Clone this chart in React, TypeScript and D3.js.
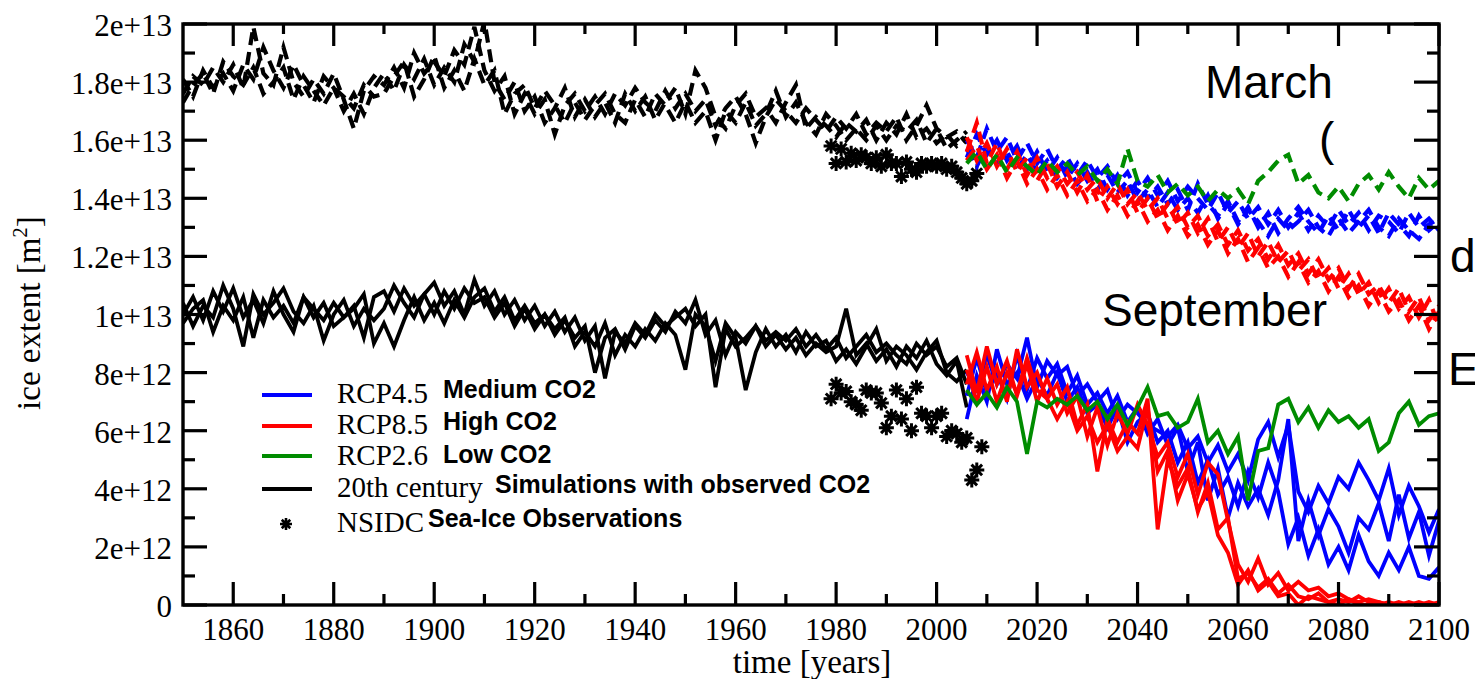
import React from "react";
import * as d3 from "d3";

// ---------- categories ----------
const histYears = d3.range(1850, 2007, 2); // 1850..2006
const rcpYears = d3.range(2006, 2101, 2); // 2006..2100
const obsYearsSep = d3.range(1979, 2010);
const obsYearsMar = d3.range(1979, 2009);

// ---------- values (units of 1e12 m^2) ----------
// 20th century, September (solid black)
const sepHist1 = [
  10.0, 10.6, 9.8, 10.8, 10.1, 10.9, 9.9, 10.5, 9.7, 10.8,
  10.0, 9.4, 10.6, 10.2, 9.8, 10.4, 9.9, 10.3, 9.2, 10.6,
  10.8, 10.1, 10.9, 10.3, 10.7, 10.0, 10.8, 10.2, 10.9, 10.4,
  10.6, 9.9, 10.4, 9.6, 10.2, 9.5, 10.0, 9.3, 9.8, 9.2,
  9.6, 8.0, 9.2, 9.5, 8.8, 9.6, 9.2, 9.8, 9.4, 10.1,
  9.7, 10.5, 9.3, 9.8, 8.6, 9.4, 9.0, 9.6, 8.9, 9.3,
  8.8, 9.2, 8.6, 9.0, 8.7, 8.9, 10.2, 8.6, 9.0, 8.4,
  8.8, 8.2, 8.9, 8.5, 9.1, 8.3, 7.9, 8.4, 6.8,
];
const sepHist2 = [
  10.4, 9.6, 10.3, 9.9, 11.0, 10.2, 8.9, 10.7, 10.0, 10.4,
  10.9, 10.1, 9.7, 10.3, 9.1, 10.0, 10.5, 9.6, 10.2, 9.8,
  10.2, 11.0, 10.4, 9.9, 10.7, 11.1, 10.3, 10.8, 10.0, 11.2,
  10.3, 10.8, 10.0, 10.5, 9.8, 10.3, 9.6, 10.1, 9.4, 9.9,
  9.1, 9.6, 7.8, 9.4, 9.0, 9.7, 9.3, 10.0, 9.6, 9.9,
  10.2, 9.6, 10.0, 7.5, 9.5, 8.9, 9.2, 9.6, 9.1, 9.4,
  9.1, 9.5, 8.9, 9.3, 8.8, 9.2, 8.5, 8.9, 9.3, 8.7,
  9.0, 8.6, 8.3, 9.0, 8.6, 8.9, 8.2, 8.5, 7.6,
];
const sepHist3 = [
  9.7, 10.2, 10.5, 9.4, 10.3, 9.8, 10.6, 9.2, 10.5, 9.9,
  10.3, 9.7, 10.6, 9.9, 10.4, 9.6, 9.9, 10.2, 10.7, 9.0,
  9.7, 8.9, 9.8, 10.6, 9.8, 10.4, 9.7, 10.5, 9.9, 10.6,
  10.9, 10.1, 10.6, 9.8, 10.3, 9.7, 10.0, 9.5, 9.9, 8.9,
  9.4, 8.9, 9.7, 8.6, 9.3, 8.9, 9.5, 9.1, 9.7, 9.3,
  8.1, 10.0, 9.6, 8.4, 9.7, 9.2, 7.4, 8.7, 9.5, 8.9,
  9.3, 8.7, 9.4, 8.9, 9.1, 8.4, 8.8, 8.3, 8.9, 9.5,
  8.4, 8.9, 8.6, 8.1, 8.7, 9.1, 8.0, 7.7, 8.1,
];
// 20th century, March (dashed black)
const marHist1 = [
  17.6, 18.2, 17.9, 18.5, 18.0, 18.6, 17.8, 19.9, 18.3, 17.9,
  19.2, 18.0, 17.5, 18.1, 17.6, 18.3, 17.4, 16.4, 17.7, 18.2,
  17.9, 18.5, 17.8, 19.0, 18.3, 18.7, 18.2, 19.1, 18.6, 19.9,
  18.4, 17.7, 18.2, 16.9, 17.6, 16.9, 17.4, 16.2, 17.2, 17.6,
  17.0, 17.5, 16.9, 17.6, 17.2, 17.8, 17.3, 17.0, 17.7, 17.1,
  17.6, 17.0, 17.4, 16.5, 17.1, 17.5, 16.9, 15.9, 16.8, 17.4,
  17.0, 16.6, 17.1, 16.7, 16.3, 16.8, 16.4, 16.9, 16.2, 16.6,
  16.3, 16.8, 16.0, 16.5, 17.2, 16.4, 16.1, 16.3, 15.9,
];
const marHist2 = [
  18.1, 17.5, 18.4, 17.8, 18.3, 17.7, 18.6, 18.1, 19.2, 18.4,
  17.8, 18.6, 17.9, 17.3, 18.2, 17.8, 17.0, 17.6, 16.9, 17.8,
  18.3, 17.7, 18.6, 18.1, 18.8, 17.9, 18.5, 18.0, 19.3, 18.7,
  20.1, 18.0, 17.4, 18.0, 17.0, 17.5, 16.6, 17.1, 17.8, 16.8,
  17.4, 16.8, 17.3, 16.6, 17.6, 17.0, 17.5, 16.7, 17.3, 17.8,
  16.9, 18.4, 17.8, 16.8, 16.4, 17.2, 17.6, 16.8, 17.1, 16.6,
  17.3, 17.9, 16.4, 16.8, 16.5, 16.1, 16.6, 16.3, 16.7, 16.0,
  16.6, 16.2, 16.9, 16.1, 16.4, 15.9, 16.2, 15.8, 16.1,
];
const marHist3 = [
  17.3, 17.9, 18.3, 17.6, 18.7, 18.2, 17.9, 18.5, 17.6, 18.0,
  18.5, 17.4, 18.2, 17.7, 17.2, 17.8, 17.5, 17.1, 17.9, 17.5,
  17.6, 18.2, 18.7, 17.5, 18.1, 18.9, 17.8, 18.4, 17.7, 18.8,
  17.9, 18.4, 16.9, 17.6, 17.9, 17.1, 17.7, 17.2, 16.6, 17.3,
  16.7, 17.2, 17.6, 16.9, 16.6, 17.4, 16.8, 17.6, 17.2, 16.6,
  17.3, 16.6, 17.0, 16.0, 17.0, 16.6, 17.3, 16.5, 16.9, 17.7,
  16.8, 17.3, 16.6, 16.2, 16.9, 16.5, 16.0, 16.4, 16.0, 16.5,
  16.0, 16.5, 16.3, 16.7, 15.9, 16.4, 15.7, 16.0, 16.3,
];
// NSIDC observations
const sepObs = [
  7.1, 7.6, 7.3, 7.35, 7.0, 6.9, 6.7, 7.4, 7.3, 7.3,
  6.95, 6.1, 6.5, 7.4, 6.4, 7.1, 6.0, 7.5, 6.6, 6.5,
  6.1, 6.5, 6.6, 5.8, 6.0, 5.9, 5.6, 5.75, 4.3, 4.65, 5.45,
];
const marObs = [
  15.8, 15.2, 15.7, 15.25, 15.55, 15.3, 15.5, 15.4, 15.2, 15.4,
  15.1, 15.5, 15.2, 15.2, 14.75, 15.25, 15.0, 14.9, 15.2, 15.1,
  15.2, 15.1, 15.2, 15.0, 15.1, 14.9, 14.7, 14.5, 14.6, 14.85,
];
// RCP4.5 September (blue, solid)
const sepRcp45a = [
  8.0, 7.4, 8.6, 7.6, 8.3, 7.8, 9.2, 7.5, 8.4, 7.9,
  8.2, 7.2, 7.6, 7.0, 7.4, 6.4, 6.9, 6.6, 6.2, 6.0,
  5.8, 6.2, 5.4, 5.8, 4.9, 5.5, 4.6, 5.2, 4.3, 5.7,
  6.3, 5.1, 6.2, 3.9, 3.2, 4.1, 3.5, 4.4, 4.0, 4.9,
  4.3, 3.6, 4.7, 3.1, 4.1, 3.4, 2.5, 3.3,
];
const sepRcp45b = [
  7.2, 8.5, 7.3, 8.0, 7.1, 8.6, 7.4, 8.5, 7.8, 8.3,
  7.3, 7.9, 6.9, 7.3, 6.6, 7.2, 6.3, 6.8, 5.9, 6.4,
  5.5, 6.1, 4.6, 5.6, 3.6, 4.7, 3.0, 4.2, 3.4, 4.0,
  3.1, 4.3, 6.4, 2.2, 3.6, 2.4, 3.3, 2.7, 1.8, 3.0,
  2.6, 3.5, 2.2, 3.8, 2.3, 3.2, 1.7, 2.9,
];
const sepRcp45c = [
  6.4, 7.9, 7.0, 8.8, 7.6, 8.0, 7.1, 7.8, 7.2, 8.0,
  7.0, 7.5, 6.6, 6.9, 6.1, 6.8, 5.6, 6.3, 6.6, 5.6,
  6.0, 4.9, 5.6, 4.2, 5.0, 3.8, 4.4, 3.4, 4.6, 3.7,
  4.9, 3.9, 2.1, 3.0, 1.7, 2.6, 1.4, 2.0, 1.2, 2.4,
  1.5, 1.0, 1.8, 1.2, 2.0, 1.0, 0.9, 1.3,
];
// RCP8.5 September (red, solid)
const sepRcp85a = [
  8.6, 7.3, 8.9, 7.6, 8.4, 7.2, 8.3, 7.0, 7.8, 6.9,
  7.5, 6.2, 6.9, 4.6, 6.4, 5.6, 6.3, 5.9, 7.1, 2.6,
  5.0, 4.1, 4.7, 3.2, 4.2, 2.6, 3.0, 0.9, 1.1, 0.6,
  0.9, 0.4, 0.7, 0.3, 0.2, 0.4, 0.1, 0.2, 0.1, 0.3,
  0.1, 0.0, 0.1, 0.0, 0.1, 0.0, 0.1, 0.0,
];
const sepRcp85b = [
  7.6, 8.7, 7.4, 8.2, 7.0, 8.8, 7.5, 8.0, 7.1, 7.6,
  6.6, 7.2, 5.8, 6.8, 5.5, 6.6, 5.9, 6.9, 6.2, 5.1,
  5.6, 4.4, 5.2, 3.8, 4.9, 4.5, 2.9, 1.4, 0.8, 1.6,
  0.7, 1.1, 0.5, 0.8, 0.5, 0.6, 0.3, 0.4, 0.2, 0.1,
  0.2, 0.1, 0.0, 0.1, 0.0, 0.0, 0.0, 0.1,
];
const sepRcp85c = [
  8.1, 7.0, 8.2, 7.0, 8.0, 7.3, 8.5, 7.4, 7.1, 6.4,
  7.0, 6.0, 6.5, 5.6, 6.2, 5.3, 5.8, 5.4, 6.8, 4.6,
  5.3, 3.6, 4.5, 3.3, 3.9, 2.4, 1.8, 0.7, 1.2, 0.5,
  0.8, 0.3, 0.4, 0.0, 0.3, 0.2, 0.1, 0.0, 0.2, 0.0,
  0.0, 0.1, 0.0, 0.0, 0.0, 0.1, 0.0, 0.0,
];
// RCP2.6 September (green, solid)
const sepRcp26 = [
  7.4, 6.9, 7.3, 6.8, 7.5, 7.0, 5.2, 7.0, 6.8, 7.1,
  6.9, 7.2, 6.7, 7.0, 6.4, 6.9, 6.2, 6.8, 7.5, 6.5,
  6.6, 6.1, 6.3, 7.1, 5.6, 6.0, 5.2, 5.8, 3.6, 5.3,
  5.4, 6.9, 7.1, 6.3, 6.8, 6.1, 6.7, 6.3, 6.5, 6.1,
  6.4, 5.3, 5.6, 6.6, 7.0, 6.2, 6.5, 6.6,
];
// RCP4.5 March (blue, dashed)
const marRcp45a = [
  16.0, 15.4, 16.4, 15.6, 16.1, 15.3, 15.9, 15.2, 15.7, 15.0,
  15.4, 14.8, 15.3, 14.7, 15.1, 14.5, 14.9, 14.2, 14.7, 14.1,
  14.6, 13.9, 14.4, 14.0, 13.6, 14.2, 13.5, 13.9, 13.3, 13.7,
  13.1, 13.6, 13.0, 13.5, 12.9, 13.4, 13.0, 13.6, 13.1, 13.5,
  12.9, 13.4, 13.2, 12.8, 13.5, 13.0, 13.3, 12.9,
];
const marRcp45b = [
  15.4, 16.2, 15.5, 16.0, 15.3, 15.8, 15.0, 15.6, 14.9, 15.4,
  14.7, 15.2, 14.6, 15.0, 14.3, 14.8, 14.1, 14.6, 14.0, 14.4,
  13.8, 14.3, 13.6, 14.5, 13.8, 13.4, 13.9, 13.2, 13.7, 13.0,
  13.5, 12.8, 13.3, 13.7, 13.2, 12.8, 13.4, 12.9, 13.6, 13.0,
  13.4, 12.8, 13.5, 13.1, 12.7, 13.4, 12.9, 13.2,
];
const marRcp45c = [
  15.7, 15.1, 15.8, 15.2, 15.6, 15.0, 15.5, 14.9, 15.3, 14.7,
  15.1, 14.5, 14.9, 14.3, 14.8, 14.2, 14.6, 13.9, 14.3, 13.7,
  14.2, 13.6, 14.0, 13.5, 14.1, 13.3, 13.8, 13.1, 13.6, 13.2,
  12.7, 13.3, 12.9, 13.2, 13.6, 13.0, 12.7, 13.3, 12.8, 13.2,
  13.6, 13.0, 12.7, 13.3, 12.9, 12.6, 13.1, 13.3,
];
// RCP8.5 March (red, dashed)
const marRcp85a = [
  15.6, 16.6, 15.2, 15.9, 15.0, 15.6, 14.8, 15.4, 14.7, 15.1,
  14.5, 14.9, 14.3, 14.7, 14.0, 14.5, 13.8, 14.2, 13.6, 14.0,
  13.3, 13.7, 13.0, 13.4, 12.7, 13.1, 12.4, 12.9, 12.2, 12.6,
  11.9, 12.4, 11.7, 12.1, 11.4, 11.9, 11.2, 11.6, 10.9, 11.4,
  10.7, 11.0, 10.4, 10.9, 10.1, 10.6, 9.8, 10.3,
];
const marRcp85b = [
  16.1, 15.3, 15.9, 15.1, 15.7, 14.9, 15.4, 14.6, 15.2, 14.4,
  14.9, 14.2, 14.8, 13.9, 14.4, 13.8, 14.3, 13.5, 14.0, 13.3,
  13.8, 13.1, 13.5, 12.8, 13.3, 12.5, 13.0, 12.3, 12.8, 12.0,
  12.5, 11.8, 12.2, 11.5, 11.9, 11.2, 11.6, 10.9, 11.4, 10.7,
  11.1, 10.4, 10.9, 10.2, 10.6, 9.9, 10.5, 9.6,
];
const marRcp85c = [
  15.3, 15.8, 15.0, 15.5, 14.7, 15.3, 14.5, 15.0, 14.3, 14.8,
  14.1, 14.6, 13.9, 14.3, 13.6, 14.1, 13.4, 13.9, 13.2, 13.6,
  12.9, 13.4, 12.7, 13.1, 12.4, 12.9, 12.1, 12.6, 11.8, 12.3,
  11.6, 12.0, 11.3, 11.8, 11.1, 11.5, 10.8, 11.3, 10.6, 11.0,
  10.3, 10.8, 10.1, 10.5, 9.8, 10.3, 9.5, 10.1,
];
// RCP2.6 March (green, dashed)
const marRcp26 = [
  15.2, 15.6, 15.0, 15.5, 14.9, 15.4, 15.1, 14.8, 15.3, 14.9,
  15.2, 14.8, 15.1, 14.6, 15.0, 14.5, 15.7, 14.6, 14.4, 14.8,
  14.2, 14.5, 14.1, 14.4, 13.9, 14.3, 14.0, 14.3, 13.8, 14.6,
  14.9, 15.3, 15.5, 14.5, 14.8, 14.2, 14.0, 14.4, 13.9, 14.5,
  14.8, 14.3, 14.9, 14.4, 14.0, 14.7, 14.3, 14.6,
];

// ---------- ticks ----------
const xMajorTicks = [1860, 1880, 1900, 1920, 1940, 1960, 1980, 2000, 2020, 2040, 2060, 2080, 2100];
const xMinorTicks = [1870, 1890, 1910, 1930, 1950, 1970, 1990, 2010, 2030, 2050, 2070, 2090];
const yMajorTicks = [0, 2e12, 4e12, 6e12, 8e12, 1e13, 1.2e13, 1.4e13, 1.6e13, 1.8e13, 2e13];
const yTickLabels = ["0", "2e+12", "4e+12", "6e+12", "8e+12", "1e+13", "1.2e+13", "1.4e+13", "1.6e+13", "1.8e+13", "2e+13"];
const yMinorTicks = [1e12, 3e12, 5e12, 7e12, 9e12, 1.1e13, 1.3e13, 1.5e13, 1.7e13, 1.9e13];

// legend
const legendCodes = ["RCP4.5", "RCP8.5", "RCP2.6", "20th century", "NSIDC"];
const legendNotes = ["Medium CO2", "High CO2", "Low CO2", "Simulations with observed CO2", "Sea-Ice Observations"];

const BLUE = "#0000ff";
const RED = "#ff0000";
const GREEN = "#008c00";
const BLACK = "#000000";

const SERIF = "'Liberation Serif', 'Times New Roman', serif";
const SANS = "'Liberation Sans', Arial, sans-serif";

const L = 183, R = 1439, T = 24, B = 605;

export default function App() {
  const x = d3.scaleLinear().domain([1850, 2100]).range([L, R]);
  const y = d3.scaleLinear().domain([0, 2e13]).range([B, T]);

  const mkLine = (years: number[]) =>
    d3
      .line<number>()
      .x((_, i) => x(years[i]))
      .y((d) => y(d * 1e12));

  const histLine = mkLine(histYears);
  const rcpLine = mkLine(rcpYears);

  const star = (r: number) => {
    const a = r * 0.7071;
    return `M${-r},0L${r},0M0,${-r}L0,${r}M${-a},${-a}L${a},${a}M${-a},${a}L${a},${-a}`;
  };

  const dash = "13,7";
  const lw = 3.8;

  const sepHist = [sepHist1, sepHist2, sepHist3];
  const marHist = [marHist1, marHist2, marHist3];

  const rcpSeries: { data: number[]; color: string; dashed: boolean }[] = [
    { data: marRcp45a, color: BLUE, dashed: true },
    { data: marRcp45b, color: BLUE, dashed: true },
    { data: marRcp45c, color: BLUE, dashed: true },
    { data: sepRcp45a, color: BLUE, dashed: false },
    { data: sepRcp45b, color: BLUE, dashed: false },
    { data: sepRcp45c, color: BLUE, dashed: false },
    { data: marRcp85a, color: RED, dashed: true },
    { data: marRcp85b, color: RED, dashed: true },
    { data: marRcp85c, color: RED, dashed: true },
    { data: sepRcp85a, color: RED, dashed: false },
    { data: sepRcp85b, color: RED, dashed: false },
    { data: sepRcp85c, color: RED, dashed: false },
    { data: marRcp26, color: GREEN, dashed: true },
    { data: sepRcp26, color: GREEN, dashed: false },
  ];

  const legendColors = [BLUE, RED, GREEN, BLACK];
  const legendLineY = [395, 426, 456, 489];
  const legendTextY = [403, 434, 465, 497, 532];
  const legendNoteX = [443, 443, 443, 495, 428];
  const legendNoteY = [398, 430, 463, 493, 527];

  return (
    <svg
      width={1475}
      height={679}
      style={{ position: "fixed", left: 0, top: 0, background: "#fff" }}
    >
      <defs>
        <clipPath id="plotclip">
          <rect x={L} y={T} width={R - L} height={B - T} />
        </clipPath>
      </defs>
      <rect x={0} y={0} width={1475} height={679} fill="#fff" />

      <g clipPath="url(#plotclip)" fill="none" strokeLinejoin="miter" strokeMiterlimit={4}>
        {sepHist.map((s, i) => (
          <path key={"sh" + i} d={histLine(s) || ""} stroke={BLACK} strokeWidth={lw} />
        ))}
        {marHist.map((s, i) => (
          <path key={"mh" + i} d={histLine(s) || ""} stroke={BLACK} strokeWidth={lw + 0.4} strokeDasharray={dash} />
        ))}
        {sepObs.map((v, i) => (
          <path key={"so" + i} d={star(7.5)} transform={`translate(${x(obsYearsSep[i])},${y(v * 1e12)})`} stroke={BLACK} strokeWidth={3} />
        ))}
        {marObs.map((v, i) => (
          <path key={"mo" + i} d={star(7.5)} transform={`translate(${x(obsYearsMar[i])},${y(v * 1e12)})`} stroke={BLACK} strokeWidth={3} />
        ))}
        {rcpSeries.map((s, i) => (
          <path
            key={"r" + i}
            d={rcpLine(s.data) || ""}
            stroke={s.color}
            strokeWidth={s.dashed ? lw + 0.4 : lw}
            strokeDasharray={s.dashed ? dash : undefined}
          />
        ))}
      </g>

      {/* frame */}
      <rect x={L} y={T} width={R - L} height={B - T} fill="none" stroke="#000" strokeWidth={3.4} />
      {/* ticks */}
      <g stroke="#000" strokeWidth={3.2}>
        {xMajorTicks.map((t) => (
          <g key={"xM" + t}>
            <line x1={x(t)} x2={x(t)} y1={B} y2={B - 23} />
            <line x1={x(t)} x2={x(t)} y1={T} y2={T + 22} />
          </g>
        ))}
        {xMinorTicks.map((t) => (
          <g key={"xm" + t}>
            <line x1={x(t)} x2={x(t)} y1={B} y2={B - 11} />
            <line x1={x(t)} x2={x(t)} y1={T} y2={T + 10} />
          </g>
        ))}
        {yMajorTicks.map((t) => (
          <g key={"yM" + t}>
            <line x1={L} x2={L + 24} y1={y(t)} y2={y(t)} />
            <line x1={R} x2={R - 25} y1={y(t)} y2={y(t)} />
          </g>
        ))}
        {yMinorTicks.map((t) => (
          <g key={"ym" + t}>
            <line x1={L} x2={L + 12} y1={y(t)} y2={y(t)} />
            <line x1={R} x2={R - 12} y1={y(t)} y2={y(t)} />
          </g>
        ))}
      </g>

      {/* tick labels */}
      <g fontFamily={SERIF} fontSize={31} fill="#000">
        {xMajorTicks.map((t) => (
          <text key={"xl" + t} x={x(t)} y={640} textAnchor="middle">
            {t}
          </text>
        ))}
        {yMajorTicks.map((t, i) => (
          <text key={"yl" + t} x={172} y={y(t) + 12} textAnchor="end">
            {yTickLabels[i]}
          </text>
        ))}
      </g>

      {/* axis titles */}
      <text x={812} y={673} textAnchor="middle" fontFamily={SERIF} fontSize={33}>
        time [years]
      </text>
      <text
        transform={`translate(40,313) rotate(-90)`}
        textAnchor="middle"
        fontFamily={SERIF}
        fontSize={33}
      >
        ice extent [m
        <tspan dy={-13} fontSize={21}>2</tspan>
        <tspan dy={13}>]</tspan>
      </text>

      {/* legend */}
      {legendColors.map((c, i) => (
        <line key={"ll" + i} x1={262} x2={312} y1={legendLineY[i]} y2={legendLineY[i]} stroke={c} strokeWidth={3.8} />
      ))}
      <path d={star(6)} transform="translate(286,524)" stroke="#000" strokeWidth={2.6} fill="none" />
      <g fontFamily={SERIF} fontSize={29} fill="#000">
        {legendCodes.map((s, i) => (
          <text key={"lc" + i} x={337} y={legendTextY[i]}>
            {s}
          </text>
        ))}
      </g>
      <g fontFamily={SANS} fontSize={25} fontWeight="bold" fill="#000">
        {legendNotes.map((s, i) => (
          <text key={"ln" + i} x={legendNoteX[i]} y={legendNoteY[i]}>
            {s}
          </text>
        ))}
      </g>

      {/* annotations */}
      <g fontFamily={SANS} fontSize={46} fill="#000">
        <text x={1205} y={98}>March</text>
        <text x={1319} y={155}>(</text>
        <text x={1102} y={326}>September</text>
        <text x={1450} y={272}>d</text>
        <text x={1448} y={385}>E</text>
      </g>
    </svg>
  );
}
